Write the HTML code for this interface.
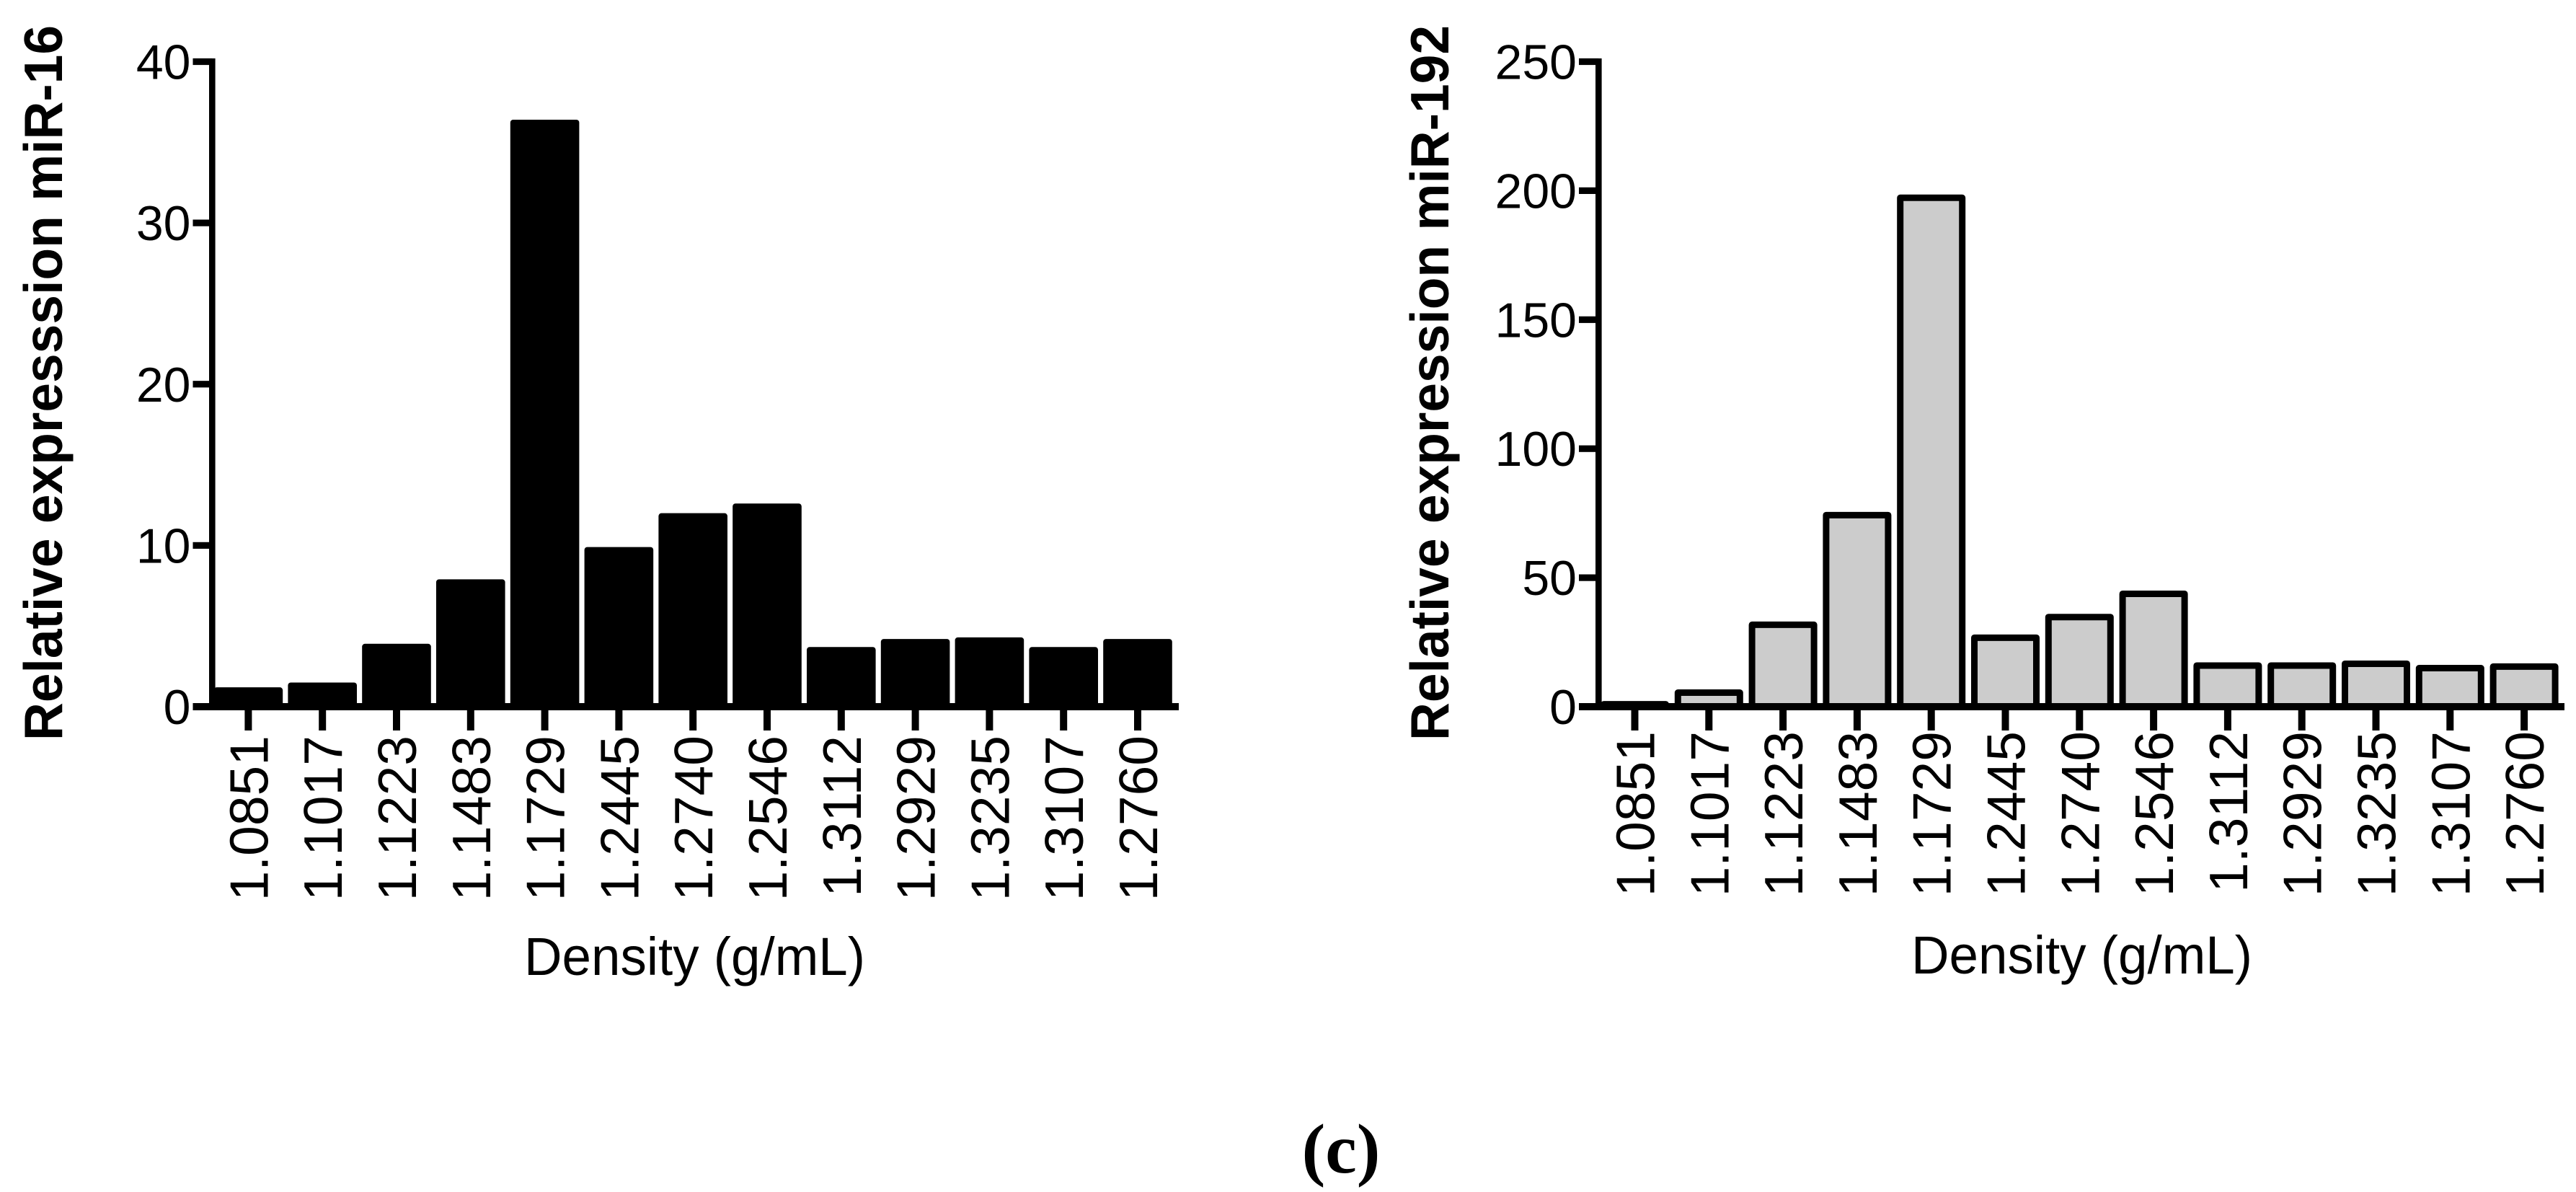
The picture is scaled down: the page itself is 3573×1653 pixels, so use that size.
<!DOCTYPE html>
<html lang="en">
<head>
<meta charset="utf-8">
<title>Relative expression of miR-16 and miR-192 by density</title>
<style>
html,body{margin:0;padding:0;background:#fff;}
svg{display:block;}
text{fill:#000;font-family:"Liberation Sans",Arial,sans-serif;}
</style>
</head>
<body>
<svg id="figure" xmlns="http://www.w3.org/2000/svg" width="3573" height="1653" viewBox="0 0 3573 1653">
  <rect x="0" y="0" width="3573" height="1653" fill="#fff"/>
  <g id="chart-left"></g>
  <g id="chart-right"></g>
  <text x="86" y="1027" transform="rotate(-90 86 1027)" font-size="75" font-weight="700" textLength="992" lengthAdjust="spacingAndGlyphs">Relative expresssion miR-16</text>
  <text x="2009" y="1027" transform="rotate(-90 2009 1027)" font-size="75" font-weight="700" textLength="992" lengthAdjust="spacingAndGlyphs">Relative expression miR-192</text>
  <text x="727" y="1352" font-size="74" textLength="473" lengthAdjust="spacingAndGlyphs">Density (g/mL)</text>
  <text x="2651" y="1350" font-size="74" textLength="473" lengthAdjust="spacingAndGlyphs">Density (g/mL)</text>
  <text x="1860" y="1626" font-size="98" font-weight="700" text-anchor="middle" style="font-family:'Liberation Serif',serif">(c)</text>
</svg>
<script>
const densityCategories = ["1.0851","1.1017","1.1223","1.1483","1.1729","1.2445","1.2740","1.2546","1.3112","1.2929","1.3235","1.3107","1.2760"];
const mir16Values = [1.2,1.5,3.9,7.9,36.4,9.9,12.0,12.6,3.7,4.2,4.3,3.7,4.2];
const mir192Values = [2.2,6.7,33,75.5,198.5,28,36,45,17.2,17.2,17.9,16.2,16.8];
const mir16Ticks = [0,10,20,30,40];
const mir192Ticks = [0,50,100,150,200,250];

const SVG_NS = "http://www.w3.org/2000/svg";

function el(parent, tag, attrs, content) {
  const node = document.createElementNS(SVG_NS, tag);
  Object.keys(attrs).forEach(function (k) { node.setAttribute(k, attrs[k]); });
  if (content !== undefined) node.textContent = content;
  parent.appendChild(node);
  return node;
}

function drawChart(group, opts) {
  const yMax = opts.ticks[opts.ticks.length - 1];
  const yScale = function (v) { return opts.y0 + (opts.yTop - opts.y0) * (v / yMax); };
  const xScale = function (i) { return opts.x0 + i * opts.step; };

  opts.values.forEach(function (v, i) {
    const cx = xScale(i);
    const top = yScale(v);
    let bar;
    if (opts.outlined) {
      bar = el(group, "rect", {x: cx - 47.5 + 4.5, y: top + 4.5, width: 95 - 9, height: Math.max(0, opts.y0 - top - 4.5), fill: "#cccccc", stroke: "#000", "stroke-width": 9, "stroke-linejoin": "round"});
    } else {
      bar = el(group, "rect", {x: cx - 47.8, y: top, width: 95.6, height: opts.y0 - top + 2, rx: 4, ry: 4, fill: "#000"});
    }
    
    
  });

  const yAxis = el(group, "rect", {x: opts.axisX - 4.3, y: opts.yTop - 4.5, width: 8.6, height: opts.y0 - opts.yTop + 9.5, fill: "#000"});
  
  

  const xAxis = el(group, "rect", {x: opts.tickLeft, y: opts.y0 - 5, width: opts.axisEnd - opts.tickLeft, height: 10, fill: "#000"});
  
  

  opts.ticks.forEach(function (t) {
    const y = yScale(t);
    const tick = el(group, "rect", {x: opts.tickLeft, y: y - 4.6, width: opts.axisX - opts.tickLeft, height: 9.2, fill: "#000"});
    
    
    const label = el(group, "text", {x: opts.tickLeft - 3, y: y + 24, "font-size": 68, "text-anchor": "end"}, String(t));
    
    
  });

  densityCategories.forEach(function (c, i) {
    const cx = xScale(i);
    const tick = el(group, "rect", {x: cx - 5, y: opts.y0 + 5, width: 10, height: 28, fill: "#000"});
    
    
    const lx = cx + 27;
    const ly = opts.labelTop;
    const label = el(group, "text", {x: lx, y: ly, "font-size": 75, "text-anchor": "end", transform: "rotate(-90 " + lx + " " + ly + ")"}, c);
    
    
  });
}

drawChart(document.getElementById("chart-left"), {
  values: mir16Values, ticks: mir16Ticks, outlined: false,
  x0: 344.4, step: 102.8, y0: 980, yTop: 85.5,
  axisX: 294.3, tickLeft: 267.5, axisEnd: 1635, labelTop: 1020
});
drawChart(document.getElementById("chart-right"), {
  values: mir192Values, ticks: mir192Ticks, outlined: true,
  x0: 2267.5, step: 102.8, y0: 980, yTop: 85.5,
  axisX: 2217.3, tickLeft: 2190, axisEnd: 3557, labelTop: 1014
});
</script>
</body>
</html>
